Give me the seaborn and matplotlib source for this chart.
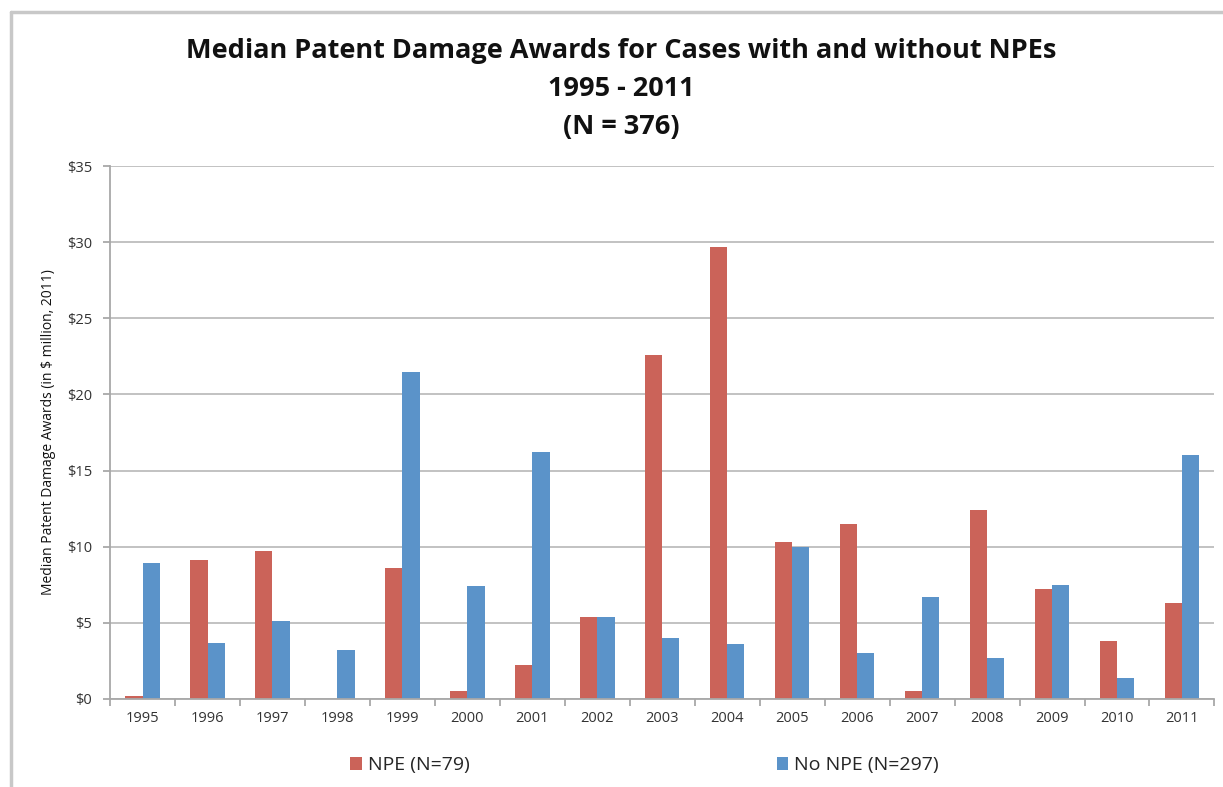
import numpy as np
import pandas as pd
import matplotlib
matplotlib.use("Agg")
import matplotlib.pyplot as plt
import matplotlib.ticker as ticker
from matplotlib.lines import Line2D
import seaborn as sns

years = [1995, 1996, 1997, 1998, 1999, 2000, 2001, 2002, 2003,
         2004, 2005, 2006, 2007, 2008, 2009, 2010, 2011]
npe = [0.2, 9.1, 9.7, 0.0, 8.6, 0.5, 2.2, 5.4, 22.6,
       29.7, 10.3, 11.5, 0.5, 12.4, 7.2, 3.8, 6.3]
no_npe = [8.9, 3.7, 5.1, 3.2, 21.5, 7.4, 16.2, 5.4, 4.0,
          3.6, 10.0, 3.0, 6.7, 2.7, 7.5, 1.4, 16.0]
series = ['NPE (N=79)', 'No NPE (N=297)']

df = pd.DataFrame({
    'Year': [str(y) for y in years] * 2,
    'Award': npe + no_npe,
    'Group': [series[0]] * len(years) + [series[1]] * len(years),
})

sns.set_theme(style="white")
plt.rcParams['font.family'] = ['Open Sans', 'DejaVu Sans']

fig = plt.figure(figsize=(12.23, 7.87), dpi=100)
ax = fig.add_axes([0.090, 0.112, 0.903, 0.677])

pal = {series[0]: '#CB6359', series[1]: '#5B93C9'}
sns.barplot(data=df, x='Year', y='Award', hue='Group', palette=pal,
            width=0.53, ax=ax, saturation=1, linewidth=0)

ax.set_ylim(0, 35)
ax.set_xlim(-0.5, len(years) - 0.5)
ax.yaxis.set_major_locator(ticker.MultipleLocator(5))
ax.yaxis.set_major_formatter(ticker.FuncFormatter(lambda v, p: f"${int(v)}"))
ax.yaxis.grid(True, color='#BDBDBD', linewidth=1.3)
ax.set_axisbelow(True)
for s in ['top', 'right']:
    ax.spines[s].set_visible(False)
for s in ['left', 'bottom']:
    ax.spines[s].set_color('#A8A8A8')
    ax.spines[s].set_linewidth(1.3)

ax.set_xticks(np.arange(-0.5, len(years), 1), minor=True)
ax.tick_params(axis='x', which='major', length=0, labelsize=10.5, colors='#333333', pad=9)
ax.tick_params(axis='x', which='minor', length=5, color='#A8A8A8', width=1.3, bottom=True)
ax.tick_params(axis='y', which='major', length=5, color='#A8A8A8', width=1.3, left=True,
               labelsize=10.5, labelcolor='#333333', pad=8)
ax.set_xlabel('')
ax.set_ylabel('Median Patent Damage Awards (in $ million, 2011)', fontsize=10,
              color='#111111', labelpad=8)

h, l = ax.get_legend_handles_labels()
ax.legend(h, l, loc='upper center', bbox_to_anchor=(0.484, -0.075), ncol=2,
          frameon=False, fontsize=14, handlelength=0.6, handleheight=0.6,
          columnspacing=15.8, handletextpad=0.3)

fig.text(0.508, 0.935, 'Median Patent Damage Awards for Cases with and without NPEs',
         ha='center', va='center', fontsize=19.5, fontweight='bold', color='#111111')
fig.text(0.508, 0.887, '1995 - 2011', ha='center', va='center', fontsize=19.5,
         fontweight='bold', color='#111111')
fig.text(0.508, 0.839, '(N = 376)', ha='center', va='center', fontsize=19.5,
         fontweight='bold', color='#111111')

# screenshot frame
fig.add_artist(Line2D([0.009, 1.0], [0.985, 0.985], color='#C8C8C8', linewidth=2.5,
                      transform=fig.transFigure))
fig.add_artist(Line2D([0.009, 0.009], [0.0, 0.985], color='#C8C8C8', linewidth=2.5,
                      transform=fig.transFigure))

fig.savefig('out.png', dpi=100)
